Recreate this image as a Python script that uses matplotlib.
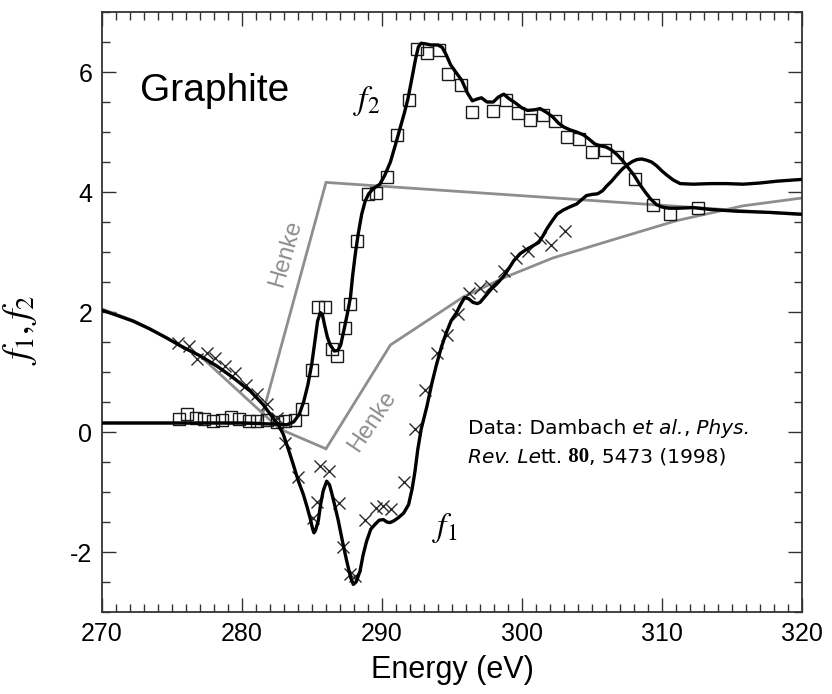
import matplotlib
matplotlib.use("Agg")
import matplotlib.pyplot as plt
from matplotlib.ticker import MultipleLocator

plt.rcParams['font.family'] = ['Liberation Sans', 'DejaVu Sans']
plt.rcParams['mathtext.fontset'] = 'stix'
plt.rcParams['axes.unicode_minus'] = False

# Experimental f2 (squares)
f2_exp_E = [275.5, 276.1, 276.7, 277.3, 277.9, 278.6, 279.2, 279.8, 280.5, 281.1,
            281.8, 282.5, 283.1, 283.8, 284.3, 285.0, 285.45, 285.9, 286.4, 286.8,
            287.35, 287.75, 288.2, 289.0, 289.6, 290.35, 291.1, 291.9, 292.5, 293.25,
            294.05, 294.75, 295.65, 296.4, 297.95, 298.85, 299.7, 300.6, 301.5, 302.35,
            303.25, 304.1, 305.0, 305.9, 306.8, 308.05, 309.35, 310.6, 312.6]
f2_exp = [0.22, 0.30, 0.24, 0.21, 0.19, 0.20, 0.25, 0.21, 0.19, 0.18,
          0.20, 0.17, 0.19, 0.20, 0.38, 1.04, 2.08, 2.08, 1.38, 1.27,
          1.74, 2.14, 3.19, 3.97, 3.99, 4.25, 4.95, 5.54, 6.38, 6.32,
          6.37, 5.97, 5.78, 5.33, 5.35, 5.54, 5.32, 5.20, 5.28, 5.18,
          4.92, 4.88, 4.66, 4.70, 4.58, 4.22, 3.78, 3.64, 3.74]

# Experimental f1 (crosses)
f1_exp_E = [275.45, 276.2, 276.8, 277.5, 278.1, 278.8, 279.5, 280.3, 281.05, 281.8,
            282.5, 283.1, 284.0, 285.1, 285.33, 285.6, 286.2, 286.9, 287.2, 287.75,
            288.05, 288.8, 289.55, 290.1, 290.65, 291.6, 292.36, 293.1, 293.9, 294.65,
            295.45, 296.2, 297.0, 297.8, 298.7, 299.6, 300.4, 301.3, 302.1, 303.1]
f1_exp = [1.48, 1.43, 1.21, 1.32, 1.24, 1.10, 0.99, 0.79, 0.63, 0.46,
          0.24, -0.18, -0.75, -1.43, -1.16, -0.57, -0.65, -1.18, -1.92, -2.37,
          -2.40, -1.46, -1.26, -1.23, -1.28, -0.84, 0.05, 0.70, 1.32, 1.62,
          1.96, 2.32, 2.40, 2.43, 2.68, 2.90, 3.02, 3.24, 3.12, 3.35]

# Calculated f2 (solid)
f2_E = [270.0, 275.0, 280.0, 282.5, 283.2, 283.7, 284.1, 284.4, 284.7, 284.98,
        285.2, 285.4, 285.6, 285.75, 285.9, 286.1, 286.3, 286.6, 286.85, 287.05,
        287.3, 287.55, 287.75, 287.9, 288.1, 288.3, 288.55, 288.8, 289.05, 289.4,
        289.85, 290.2, 290.6, 290.95, 291.3, 291.6, 291.85, 292.1, 292.4, 292.6,
        292.8, 293.1, 293.5, 294.0, 294.3, 294.6, 294.9, 295.2, 295.7, 296.1,
        296.45, 296.8, 297.1, 297.5, 297.95, 298.3, 298.7, 299.1, 299.5, 300.0,
        300.4, 300.9, 301.3, 301.8, 302.2, 302.6, 303.0, 303.5, 303.9, 304.4,
        304.8, 305.2, 305.6, 306.0, 306.4, 306.8, 307.2, 307.6, 308.0, 308.4,
        308.8, 309.2, 309.6, 310.0, 310.5, 311.2, 312.2, 313.4, 315.3, 317.7, 320.0]
f2 = [0.15, 0.15, 0.15, 0.13, 0.12, 0.17, 0.30, 0.50, 0.78, 1.13,
      1.50, 1.85, 1.99, 1.95, 1.78, 1.58, 1.45, 1.35, 1.36, 1.45,
      1.72, 2.00, 2.25, 2.60, 2.98, 3.30, 3.63, 3.85, 3.97, 4.06,
      4.13, 4.28, 4.50, 4.78, 5.07, 5.32, 5.55, 5.85, 6.22, 6.42,
      6.48, 6.47, 6.45, 6.45, 6.41, 6.28, 6.12, 6.02, 5.86, 5.65,
      5.52, 5.55, 5.57, 5.50, 5.50, 5.58, 5.63, 5.55, 5.49, 5.40,
      5.36, 5.37, 5.39, 5.32, 5.25, 5.15, 5.08, 5.03, 5.00, 4.95,
      4.88, 4.80, 4.77, 4.75, 4.70, 4.62, 4.52, 4.40, 4.28, 4.13,
      4.00, 3.88, 3.79, 3.75, 3.73, 3.73, 3.74, 3.71, 3.68, 3.66, 3.63]

# Calculated f1 (solid)
f1_E = [270.0, 271.0, 272.2, 273.4, 274.6, 275.8, 277.0, 278.2, 279.4, 280.6,
        281.5, 282.2, 282.6, 282.95, 283.3, 283.66, 284.0, 284.38, 284.65, 284.86,
        285.05, 285.14, 285.25, 285.45, 285.62, 285.8, 286.05, 286.25, 286.4, 286.65,
        286.88, 287.2, 287.48, 287.75, 287.95, 288.15, 288.43, 288.65, 288.9, 289.2,
        289.5, 289.8, 290.1, 290.35, 290.57, 290.85, 291.16, 291.55, 291.9, 292.15,
        292.36, 292.55, 292.8, 293.2, 293.55, 293.9, 294.25, 294.6, 294.95, 295.3,
        295.6, 295.9, 296.2, 296.5, 296.8, 297.0, 297.4, 297.8, 298.25, 298.7,
        299.05, 299.4, 299.85, 300.3, 300.75, 301.2, 301.5, 301.76, 302.1, 302.5,
        302.95, 303.4, 303.9, 304.3, 304.6, 305.0, 305.4, 305.75, 306.05, 306.4,
        306.8, 307.2, 307.5, 307.9, 308.2, 308.55, 308.9, 309.25, 309.6, 310.0,
        310.3, 310.8, 311.3, 312.2, 313.5, 314.6, 315.8, 317.0, 318.2, 320.0]
f1 = [2.03, 1.95, 1.85, 1.72, 1.57, 1.41, 1.27, 1.10, 0.90, 0.68,
      0.46, 0.24, 0.12, -0.04, -0.28, -0.54, -0.80, -1.04, -1.25, -1.43,
      -1.62, -1.68, -1.64, -1.48, -1.20, -0.98, -0.82, -0.88, -1.01, -1.25,
      -1.48, -1.85, -2.15, -2.42, -2.54, -2.50, -2.32, -2.05, -1.82, -1.62,
      -1.54, -1.47, -1.46, -1.50, -1.51, -1.48, -1.43, -1.35, -1.21, -0.95,
      -0.65, -0.30, 0.05, 0.42, 0.80, 1.13, 1.42, 1.66, 1.86, 1.98,
      2.12, 2.24, 2.22, 2.16, 2.14, 2.16, 2.27, 2.38, 2.48, 2.60,
      2.72, 2.85, 2.97, 3.04, 3.10, 3.16, 3.27, 3.38, 3.50, 3.63,
      3.70, 3.75, 3.80, 3.88, 3.94, 3.96, 3.97, 4.02, 4.10, 4.18,
      4.29, 4.39, 4.45, 4.51, 4.54, 4.55, 4.53, 4.50, 4.44, 4.35,
      4.29, 4.20, 4.14, 4.13, 4.14, 4.14, 4.13, 4.15, 4.18, 4.21]

# Henke tabulated values
henke_f2_E = [270.0, 281.3, 286.0, 320.0]
henke_f2 = [0.15, 0.15, 4.16, 3.62]
henke_f1_E = [270.0, 272.3, 274.6, 277.0, 282.7, 286.0, 290.6, 295.8, 298.7,
              302.2, 307.0, 311.0, 315.8, 320.0]
henke_f1 = [2.05, 1.85, 1.57, 1.27, 0.05, -0.28, 1.45, 2.25, 2.57,
            2.90, 3.24, 3.52, 3.77, 3.90]

x_ticks = [270, 280, 290, 300, 310, 320]
y_ticks = [-2, 0, 2, 4, 6]

fig = plt.figure(figsize=(8.32, 6.94), dpi=100)
ax = fig.add_axes([102 / 832, 82 / 694, 700 / 832, 600 / 694])

gray = '#8e8e8e'
ax.plot(henke_f2_E, henke_f2, color=gray, lw=2.0, zorder=2, solid_joinstyle='miter')
ax.plot(henke_f1_E, henke_f1, color=gray, lw=2.0, zorder=2, solid_joinstyle='miter')

ax.plot(f2_E, f2, color='black', lw=2.4, zorder=4, solid_joinstyle='round')
ax.plot(f1_E, f1, color='black', lw=2.4, zorder=4, solid_joinstyle='round')

ax.plot(f2_exp_E, f2_exp, ls='none', marker='s', ms=8.5, mfc='none',
        mec='#1a1a1a', mew=1.0, zorder=3)
ax.plot(f1_exp_E, f1_exp, ls='none', marker='x', ms=9,
        mec='#2a2a2a', mew=1.0, zorder=3)

ax.set_xlim(270, 320)
ax.set_ylim(-3, 7)
ax.set_xticks(x_ticks)
ax.set_yticks(y_ticks)
ax.xaxis.set_minor_locator(MultipleLocator(1))
ax.yaxis.set_minor_locator(MultipleLocator(0.5))
ax.tick_params(which='both', direction='in', top=True, right=True,
               color='#333333', width=1.0)
ax.tick_params(which='major', length=10, labelsize=18, pad=7)
ax.tick_params(which='minor', length=5.5)
for s in ax.spines.values():
    s.set_color('#333333')
    s.set_linewidth(1.3)

ax.set_xlabel('Energy (eV)', fontsize=22, labelpad=7)
ax.set_ylabel(r'$f_{\mathit{1}}, f_{\mathit{2}}$', fontsize=27)
ax.yaxis.set_label_coords(-0.09, 0.47)

ax.text(272.7, 5.52, 'Graphite', fontsize=28, ha='left', va='baseline')
ax.text(287.9, 5.38, r'$f_{\mathit{2}}$', fontsize=24, ha='left', va='baseline')
ax.text(293.6, -1.73, r'$f_{\mathit{1}}$', fontsize=24, ha='left', va='baseline')

ax.text(283.1, 2.98, 'Henke', fontsize=17, color=gray, rotation=74,
        ha='center', va='center', rotation_mode='anchor')
ax.text(289.3, 0.18, 'Henke', fontsize=17, color=gray, rotation=56,
        ha='center', va='center', rotation_mode='anchor')

# citation, assembled from runs of differently styled text
reg = dict(fontsize=14.5, family='DejaVu Sans')
ita = dict(fontsize=14.5, family='DejaVu Sans', style='italic')
bld = dict(fontsize=15, family='Liberation Serif', weight='bold')


def text_run(x, y, parts):
    style0 = parts[0][1]
    prev = ax.text(x, y, parts[0][0], ha='left', va='baseline', **style0)
    for s, st in parts[1:]:
        prev = ax.annotate(s, xy=(1, 0), xycoords=prev, ha='left', va='bottom', **st)
    return prev


text_run(296.14, -0.04, [('Data: Dambach', reg), (' et al.', ita), (',', reg), (' Phys.', ita)])
text_run(296.14, -0.51, [('Rev. Le', ita), ('tt.', reg), (' 80', bld), (', 5473 (1998)', reg)])

fig.savefig('out.png', dpi=100)
